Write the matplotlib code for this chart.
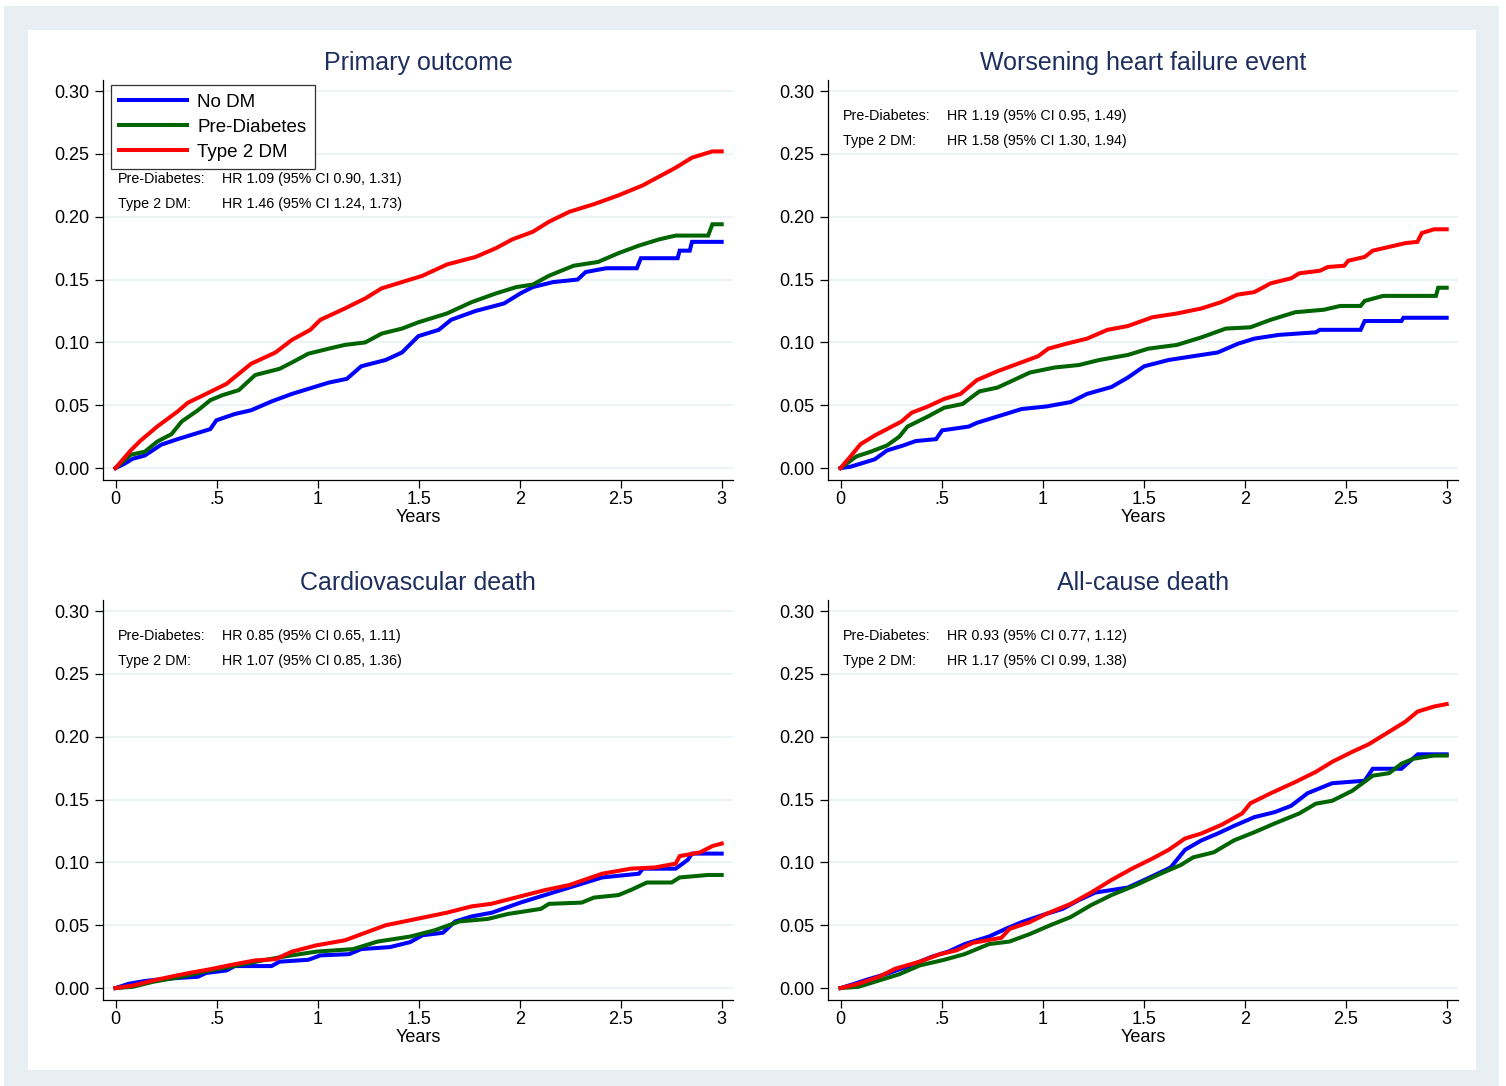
import matplotlib
matplotlib.use("Agg")
import matplotlib.pyplot as plt
from matplotlib.patches import Rectangle

plt.rcParams["font.family"] = ["Liberation Sans", "DejaVu Sans"]

groups = ["No DM", "Pre-Diabetes", "Type 2 DM"]
group_colors = ["#0000ff", "#006400", "#ff0000"]
titles = ["Primary outcome", "Worsening heart failure event",
          "Cardiovascular death", "All-cause death"]
y_ticks = [0.00, 0.05, 0.10, 0.15, 0.20, 0.25, 0.30]
x_ticks = [0, 0.5, 1, 1.5, 2, 2.5, 3]
x_ticklabels = ["0", ".5", "1", "1.5", "2", "2.5", "3"]

hr_text = [
    ("HR 1.09 (95% CI 0.90, 1.31)", "HR 1.46 (95% CI 1.24, 1.73)"),
    ("HR 1.19 (95% CI 0.95, 1.49)", "HR 1.58 (95% CI 1.30, 1.94)"),
    ("HR 0.85 (95% CI 0.65, 1.11)", "HR 1.07 (95% CI 0.85, 1.36)"),
    ("HR 0.93 (95% CI 0.77, 1.12)", "HR 1.17 (95% CI 0.99, 1.38)"),
]

# ---- primary outcome ----
po_nodm_t = [0, 0.044, 0.085, 0.145, 0.226, 0.307, 0.388, 0.469, 0.499, 0.59, 0.671, 0.772,
             0.873, 0.974, 1.055, 1.145, 1.216, 1.337, 1.418, 1.499, 1.6, 1.661, 1.782, 1.923,
             2.004, 2.065, 2.166, 2.287, 2.327, 2.428, 2.58, 2.6, 2.782, 2.792, 2.842, 2.853, 3.0]
po_nodm_v = [0, 0.0034, 0.0074, 0.010, 0.0186, 0.023, 0.027, 0.031, 0.038, 0.043, 0.046, 0.053,
             0.059, 0.064, 0.068, 0.071, 0.081, 0.086, 0.092, 0.105, 0.110, 0.118, 0.125, 0.131,
             0.139, 0.144, 0.148, 0.150, 0.156, 0.159, 0.159, 0.167, 0.167, 0.173, 0.173, 0.180, 0.180]
po_pre_t = [0, 0.075, 0.145, 0.206, 0.277, 0.327, 0.408, 0.469, 0.529, 0.61, 0.691, 0.812, 0.873,
            0.954, 1.055, 1.135, 1.236, 1.317, 1.418, 1.499, 1.64, 1.762, 1.883, 1.984, 2.065,
            2.145, 2.267, 2.388, 2.489, 2.59, 2.691, 2.772, 2.933, 2.954, 3.0]
po_pre_v = [0, 0.0106, 0.013, 0.021, 0.027, 0.037, 0.046, 0.054, 0.058, 0.062, 0.074, 0.079, 0.084,
            0.091, 0.095, 0.098, 0.100, 0.107, 0.111, 0.116, 0.123, 0.132, 0.139, 0.144, 0.146,
            0.153, 0.161, 0.164, 0.171, 0.177, 0.182, 0.185, 0.185, 0.194, 0.194]
po_t2_t = [0, 0.075, 0.125, 0.206, 0.307, 0.358, 0.448, 0.549, 0.671, 0.792, 0.873, 0.964, 1.014,
           1.135, 1.236, 1.317, 1.418, 1.519, 1.64, 1.782, 1.883, 1.964, 2.065, 2.145, 2.247,
           2.368, 2.489, 2.61, 2.691, 2.772, 2.853, 2.954, 3.0]
po_t2_v = [0, 0.014, 0.022, 0.033, 0.045, 0.052, 0.059, 0.067, 0.083, 0.092, 0.102, 0.110, 0.118,
           0.127, 0.135, 0.143, 0.148, 0.153, 0.162, 0.168, 0.175, 0.182, 0.188, 0.196, 0.204,
           0.210, 0.217, 0.225, 0.232, 0.239, 0.247, 0.252, 0.252]

# ---- worsening heart failure event ----
hf_nodm_t = [0, 0.048, 0.089, 0.17, 0.23, 0.311, 0.372, 0.473, 0.503, 0.634, 0.675, 0.776, 0.897,
             1.018, 1.139, 1.22, 1.341, 1.422, 1.503, 1.624, 1.745, 1.867, 1.968, 2.048, 2.17,
             2.352, 2.372, 2.574, 2.594, 2.776, 2.786, 3.0]
hf_nodm_v = [0, 0.001, 0.003, 0.007, 0.014, 0.018, 0.0215, 0.023, 0.030, 0.033, 0.036, 0.041, 0.047,
             0.049, 0.0525, 0.059, 0.0645, 0.072, 0.081, 0.086, 0.089, 0.092, 0.099, 0.103, 0.106,
             0.108, 0.110, 0.110, 0.117, 0.117, 0.1196, 0.1196]
hf_pre_t = [0, 0.079, 0.149, 0.23, 0.291, 0.331, 0.432, 0.513, 0.604, 0.687, 0.776, 0.857, 0.937,
            1.059, 1.18, 1.281, 1.422, 1.523, 1.665, 1.786, 1.907, 2.028, 2.129, 2.251, 2.392,
            2.473, 2.574, 2.594, 2.685, 2.947, 2.958, 3.0]
hf_pre_v = [0, 0.0093, 0.013, 0.018, 0.025, 0.033, 0.041, 0.048, 0.051, 0.061, 0.064, 0.070, 0.076,
            0.080, 0.082, 0.086, 0.090, 0.095, 0.098, 0.104, 0.111, 0.112, 0.118, 0.124, 0.126,
            0.129, 0.129, 0.133, 0.137, 0.137, 0.1435, 0.1435]
hf_t2_t = [0, 0.048, 0.099, 0.17, 0.23, 0.301, 0.352, 0.432, 0.513, 0.594, 0.675, 0.776, 0.877,
           0.978, 1.028, 1.119, 1.22, 1.321, 1.422, 1.543, 1.665, 1.786, 1.883, 1.964, 2.048,
           2.129, 2.23, 2.271, 2.372, 2.412, 2.493, 2.513, 2.594, 2.634, 2.715, 2.796, 2.855,
           2.877, 2.937, 3.0]
hf_t2_v = [0, 0.009, 0.019, 0.026, 0.031, 0.037, 0.044, 0.049, 0.055, 0.059, 0.070, 0.077, 0.083,
           0.089, 0.095, 0.099, 0.103, 0.110, 0.113, 0.120, 0.123, 0.127, 0.132, 0.138, 0.140,
           0.147, 0.151, 0.155, 0.157, 0.160, 0.161, 0.165, 0.168, 0.173, 0.176, 0.179, 0.180,
           0.187, 0.190, 0.190]

# ---- cardiovascular death ----
cv_nodm_t = [0, 0.065, 0.145, 0.246, 0.408, 0.448, 0.549, 0.59, 0.772, 0.812, 0.954, 1.014, 1.156,
             1.216, 1.358, 1.459, 1.519, 1.62, 1.681, 1.762, 1.863, 2.004, 2.145, 2.287, 2.408,
             2.59, 2.61, 2.772, 2.832, 2.853, 3.0]
cv_nodm_v = [0, 0.0034, 0.0056, 0.0074, 0.009, 0.012, 0.014, 0.0175, 0.0175, 0.021, 0.0225, 0.026,
             0.027, 0.031, 0.0326, 0.0366, 0.042, 0.044, 0.053, 0.057, 0.060, 0.068, 0.075, 0.082,
             0.088, 0.091, 0.095, 0.095, 0.102, 0.107, 0.107]
cv_pre_t = [0, 0.085, 0.186, 0.327, 0.469, 0.57, 0.711, 0.832, 0.994, 1.176, 1.297, 1.459, 1.58,
            1.701, 1.842, 1.943, 2.105, 2.145, 2.307, 2.368, 2.489, 2.55, 2.63, 2.752, 2.792,
            2.933, 3.0]
cv_pre_v = [0, 0.001, 0.005, 0.009, 0.014, 0.017, 0.0215, 0.025, 0.029, 0.031, 0.037, 0.041, 0.046,
            0.053, 0.055, 0.059, 0.063, 0.067, 0.068, 0.072, 0.074, 0.078, 0.084, 0.084, 0.088,
            0.090, 0.090]
cv_t2_t = [0, 0.085, 0.186, 0.287, 0.388, 0.469, 0.59, 0.691, 0.792, 0.873, 0.994, 1.135, 1.236,
           1.337, 1.459, 1.58, 1.64, 1.762, 1.859, 2.004, 2.127, 2.246, 2.408, 2.55, 2.671,
           2.772, 2.792, 2.893, 2.954, 3.0]
cv_t2_v = [0, 0.002, 0.006, 0.0095, 0.0127, 0.015, 0.019, 0.022, 0.023, 0.029, 0.034, 0.038, 0.044,
           0.050, 0.054, 0.058, 0.060, 0.065, 0.067, 0.073, 0.078, 0.082, 0.091, 0.095, 0.096,
           0.099, 0.105, 0.108, 0.113, 0.115]

# ---- all-cause death ----
ac_nodm_t = [0, 0.069, 0.129, 0.23, 0.331, 0.453, 0.533, 0.614, 0.735, 0.816, 0.897, 0.998, 1.099,
             1.18, 1.261, 1.422, 1.543, 1.634, 1.705, 1.786, 1.867, 1.947, 2.048, 2.149, 2.23,
             2.311, 2.433, 2.594, 2.634, 2.776, 2.857, 3.0]
ac_nodm_v = [0, 0.0034, 0.0066, 0.0114, 0.017, 0.025, 0.029, 0.035, 0.041, 0.047, 0.0525, 0.058,
             0.063, 0.070, 0.076, 0.080, 0.089, 0.096, 0.110, 0.1175, 0.123, 0.129, 0.136, 0.140,
             0.145, 0.155, 0.163, 0.165, 0.1745, 0.1745, 0.186, 0.186]
ac_pre_t = [0, 0.089, 0.19, 0.291, 0.392, 0.513, 0.614, 0.735, 0.836, 0.937, 1.038, 1.139, 1.24,
            1.341, 1.463, 1.584, 1.685, 1.745, 1.847, 1.947, 2.048, 2.149, 2.271, 2.352, 2.433,
            2.533, 2.634, 2.715, 2.776, 2.836, 2.937, 3.0]
ac_pre_v = [0, 0.001, 0.006, 0.011, 0.018, 0.0225, 0.027, 0.035, 0.037, 0.043, 0.050, 0.0565,
            0.066, 0.074, 0.082, 0.091, 0.098, 0.104, 0.108, 0.1175, 0.124, 0.131, 0.139, 0.1467,
            0.149, 0.157, 0.169, 0.171, 0.1785, 0.1825, 0.185, 0.185]
ac_t2_t = [0, 0.089, 0.19, 0.271, 0.392, 0.493, 0.574, 0.655, 0.796, 0.836, 0.937, 1.018, 1.139,
           1.24, 1.341, 1.442, 1.543, 1.624, 1.705, 1.786, 1.887, 1.988, 2.028, 2.129, 2.251,
           2.352, 2.433, 2.533, 2.614, 2.695, 2.796, 2.856, 2.937, 3.0]
ac_t2_v = [0, 0.0034, 0.009, 0.0154, 0.021, 0.027, 0.030, 0.036, 0.040, 0.047, 0.0525, 0.059,
           0.067, 0.076, 0.086, 0.095, 0.103, 0.110, 0.119, 0.123, 0.130, 0.139, 0.147, 0.155,
           0.164, 0.172, 0.180, 0.188, 0.194, 0.202, 0.212, 0.220, 0.224, 0.226]

curves = [
    [(po_nodm_t, po_nodm_v), (po_pre_t, po_pre_v), (po_t2_t, po_t2_v)],
    [(hf_nodm_t, hf_nodm_v), (hf_pre_t, hf_pre_v), (hf_t2_t, hf_t2_v)],
    [(cv_nodm_t, cv_nodm_v), (cv_pre_t, cv_pre_v), (cv_t2_t, cv_t2_v)],
    [(ac_nodm_t, ac_nodm_v), (ac_pre_t, ac_pre_v), (ac_t2_t, ac_t2_v)],
]

W, H = 1506, 1086
fig = plt.figure(figsize=(W / 100, H / 100), dpi=100, facecolor="white")

# outer bluish-gray region with white plot region on top
fig.patches.append(Rectangle((4 / W, 0), 1495 / W, 1 - 6 / H, transform=fig.transFigure,
                             facecolor="#e8eff2", edgecolor="none", zorder=-2))
fig.patches.append(Rectangle((28 / W, 1 - 1070 / H), 1448 / W, 1040 / H, transform=fig.transFigure,
                             facecolor="white", edgecolor="none", zorder=-1))

# axes boxes in pixels: (left, top)
boxes = [(103, 80), (828, 80), (103, 600), (828, 600)]
ax_w, ax_h = 630, 400
title_color = "#1e2f5e"

for i, (x0, y0) in enumerate(boxes):
    ax = fig.add_axes([x0 / W, 1 - (y0 + ax_h) / H, ax_w / W, ax_h / H])
    ax.set_facecolor("none")

    for (t, v), c, lab in zip(curves[i], group_colors, groups):
        ax.plot(t, v, color=c, lw=2.9, label=lab, solid_joinstyle="miter", zorder=3)

    ax.set_xlim(-0.062, 3.056)
    ax.set_ylim(-0.0095, 0.3088)
    ax.set_yticks(y_ticks)
    ax.set_yticklabels([f"{y:.2f}" for y in y_ticks])
    ax.set_xticks(x_ticks)
    ax.set_xticklabels(x_ticklabels)
    ax.tick_params(axis="both", labelsize=13, length=6, width=0.9, color="black")
    ax.tick_params(axis="y", pad=4)
    ax.tick_params(axis="x", pad=2)
    ax.grid(axis="y", color="#e9f1f3", lw=1.2, zorder=0)
    for s in ["top", "right"]:
        ax.spines[s].set_visible(False)
    for s in ["left", "bottom"]:
        ax.spines[s].set_linewidth(0.9)

    ax.set_xlabel("Years", fontsize=13, labelpad=1)
    ax.set_title(titles[i], fontsize=18, color=title_color, pad=7)

    if i == 0:
        leg = ax.legend(loc="upper left", bbox_to_anchor=(0.0127, 0.9875), borderaxespad=0,
                        fontsize=13.5, handlelength=3.6, handletextpad=0.55, labelspacing=0.42,
                        borderpad=0.45, fancybox=False, framealpha=1, edgecolor="#333333")
        leg.get_frame().set_linewidth(0.9)
        ys = (0.230, 0.210)
    else:
        ys = (0.280, 0.260)

    ax.text(0.01, ys[0], "Pre-Diabetes:", fontsize=10.3, va="center", ha="left")
    ax.text(0.525, ys[0], hr_text[i][0], fontsize=10.3, va="center", ha="left")
    ax.text(0.01, ys[1], "Type 2 DM:", fontsize=10.3, va="center", ha="left")
    ax.text(0.525, ys[1], hr_text[i][1], fontsize=10.3, va="center", ha="left")

fig.savefig("out.png", dpi=100)
